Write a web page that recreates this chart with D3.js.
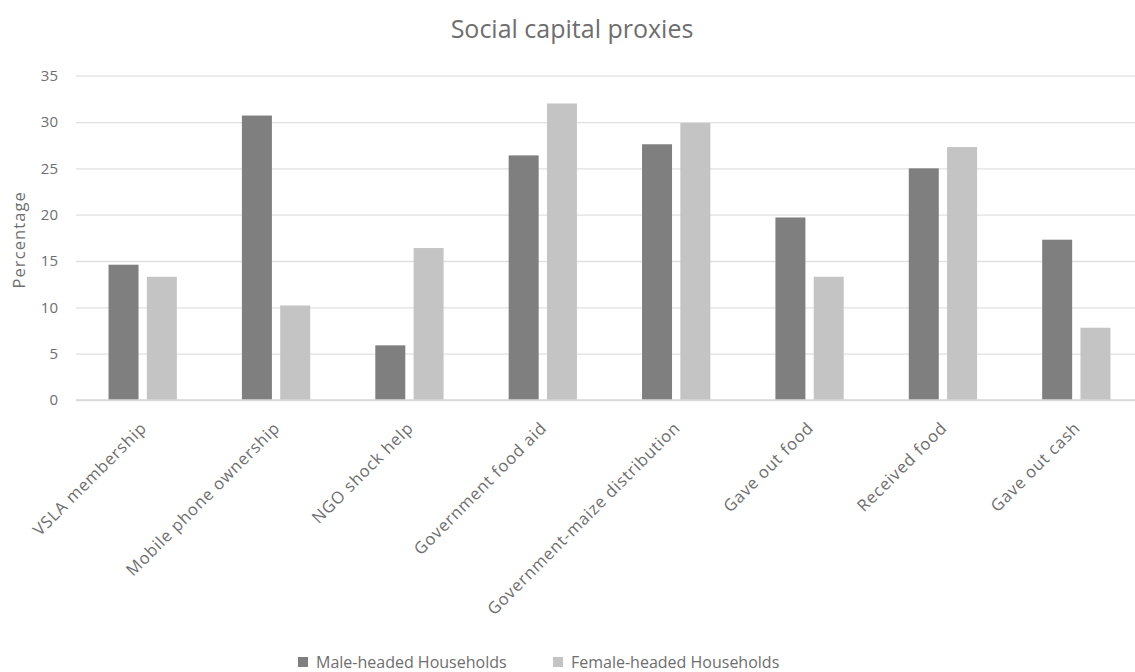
<!DOCTYPE html>
<html>
<head>
<meta charset="utf-8">
<script src="https://cdn.jsdelivr.net/npm/d3@7"></script>
<style>
  html, body { margin: 0; padding: 0; background: #ffffff; }
  svg { display: block; font-family: "Open Sans", "Liberation Sans", sans-serif; }
</style>
</head>
<body>
<svg id="chart" width="1135" height="672"></svg>
<script>
const title = "Social capital proxies";
const yAxisTitle = "Percentage";
const categories = [
  "VSLA membership",
  "Mobile phone ownership",
  "NGO shock help",
  "Government food aid",
  "Government-maize distribution",
  "Gave out food",
  "Received food",
  "Gave out cash"
];
const seriesNames = ["Male-headed Households", "Female-headed Households"];
const maleValues = [14.6, 30.7, 5.9, 26.4, 27.6, 19.7, 25.0, 17.3];
const femaleValues = [13.3, 10.2, 16.4, 32.0, 29.9, 13.3, 27.3, 7.8];
const yTicks = [0, 5, 10, 15, 20, 25, 30, 35];
const seriesColors = ["#7f7f7f", "#c4c4c4"];

const svg = d3.select("#chart");
const plot = { left: 76, right: 1143, top: 75.7, bottom: 400 };
const textColor = "#6e6e6e";
const gridColor = "#e0e0e0";

const x = d3.scaleBand().domain(categories).range([plot.left, plot.right]).paddingInner(0).paddingOuter(0);
const bw = x.bandwidth();
const xs = d3.scaleBand().domain(seriesNames).range([bw * 0.244, bw * 0.756]).paddingInner(0.217).paddingOuter(0);
const y = d3.scaleLinear().domain([0, 35]).range([plot.bottom, plot.top]);

// Title
svg.append("text")
  .attr("x", 572).attr("y", 38)
  .attr("text-anchor", "middle")
  .attr("fill", textColor)
  .attr("font-size", 25)
  .text(title);

// Gridlines + y tick labels
const yAxis = d3.axisLeft(y).tickValues(yTicks).tickSize(-(plot.right - plot.left)).tickPadding(18).tickFormat(d3.format("d"));
const gy = svg.append("g").attr("transform", `translate(${plot.left},0)`).call(yAxis);
gy.select(".domain").remove();
gy.selectAll(".tick line").attr("stroke", gridColor).attr("stroke-width", 1.3);
gy.selectAll(".tick text").attr("fill", textColor).attr("font-size", 15).attr("font-family", "Open Sans, sans-serif");

// Bars
const data = categories.map((c, i) => ({ cat: c, vals: [maleValues[i], femaleValues[i]] }));
const groups = svg.append("g").selectAll("g").data(data).join("g")
  .attr("transform", d => `translate(${x(d.cat)},0)`);
groups.selectAll("rect")
  .data(d => d.vals.map((v, j) => ({ s: seriesNames[j], v, j })))
  .join("rect")
  .attr("x", d => xs(d.s))
  .attr("width", xs.bandwidth())
  .attr("y", d => y(d.v))
  .attr("height", d => y(0) - y(d.v))
  .attr("fill", d => seriesColors[d.j]);

// X axis line
svg.append("line")
  .attr("x1", plot.left).attr("x2", plot.right)
  .attr("y1", y(0)).attr("y2", y(0))
  .attr("stroke", "#d9d9d9").attr("stroke-width", 1.5);

// Category labels
const xAxis = d3.axisBottom(x).tickSize(0).tickPadding(0);
const gx = svg.append("g").attr("transform", `translate(0,${plot.bottom})`).call(xAxis);
gx.select(".domain").remove();
gx.selectAll(".tick text")
  .attr("fill", textColor)
  .attr("font-size", 16.5)
  .attr("letter-spacing", 0.8)
  .attr("font-family", "Open Sans, sans-serif")
  .attr("text-anchor", "end")
  .attr("dy", null)
  .attr("y", 0)
  .attr("transform", "translate(5,29) rotate(-45)");

// Y axis title
svg.append("text")
  .attr("transform", `translate(25,${(plot.top + plot.bottom) / 2 + 2}) rotate(-90)`)
  .attr("text-anchor", "middle")
  .attr("fill", textColor)
  .attr("font-size", 16.5)
  .attr("letter-spacing", 1.1)
  .text(yAxisTitle);

// Legend
const legendItems = [
  { name: seriesNames[0], color: seriesColors[0], x: 298 },
  { name: seriesNames[1], color: seriesColors[1], x: 553 }
];
const lg = svg.append("g").selectAll("g").data(legendItems).join("g")
  .attr("transform", d => `translate(${d.x},657)`);
lg.append("rect").attr("width", 10).attr("height", 10).attr("fill", d => d.color);
lg.append("text").attr("x", 18).attr("y", 11).attr("fill", textColor).attr("font-size", 16).text(d => d.name);
</script>
</body>
</html>
